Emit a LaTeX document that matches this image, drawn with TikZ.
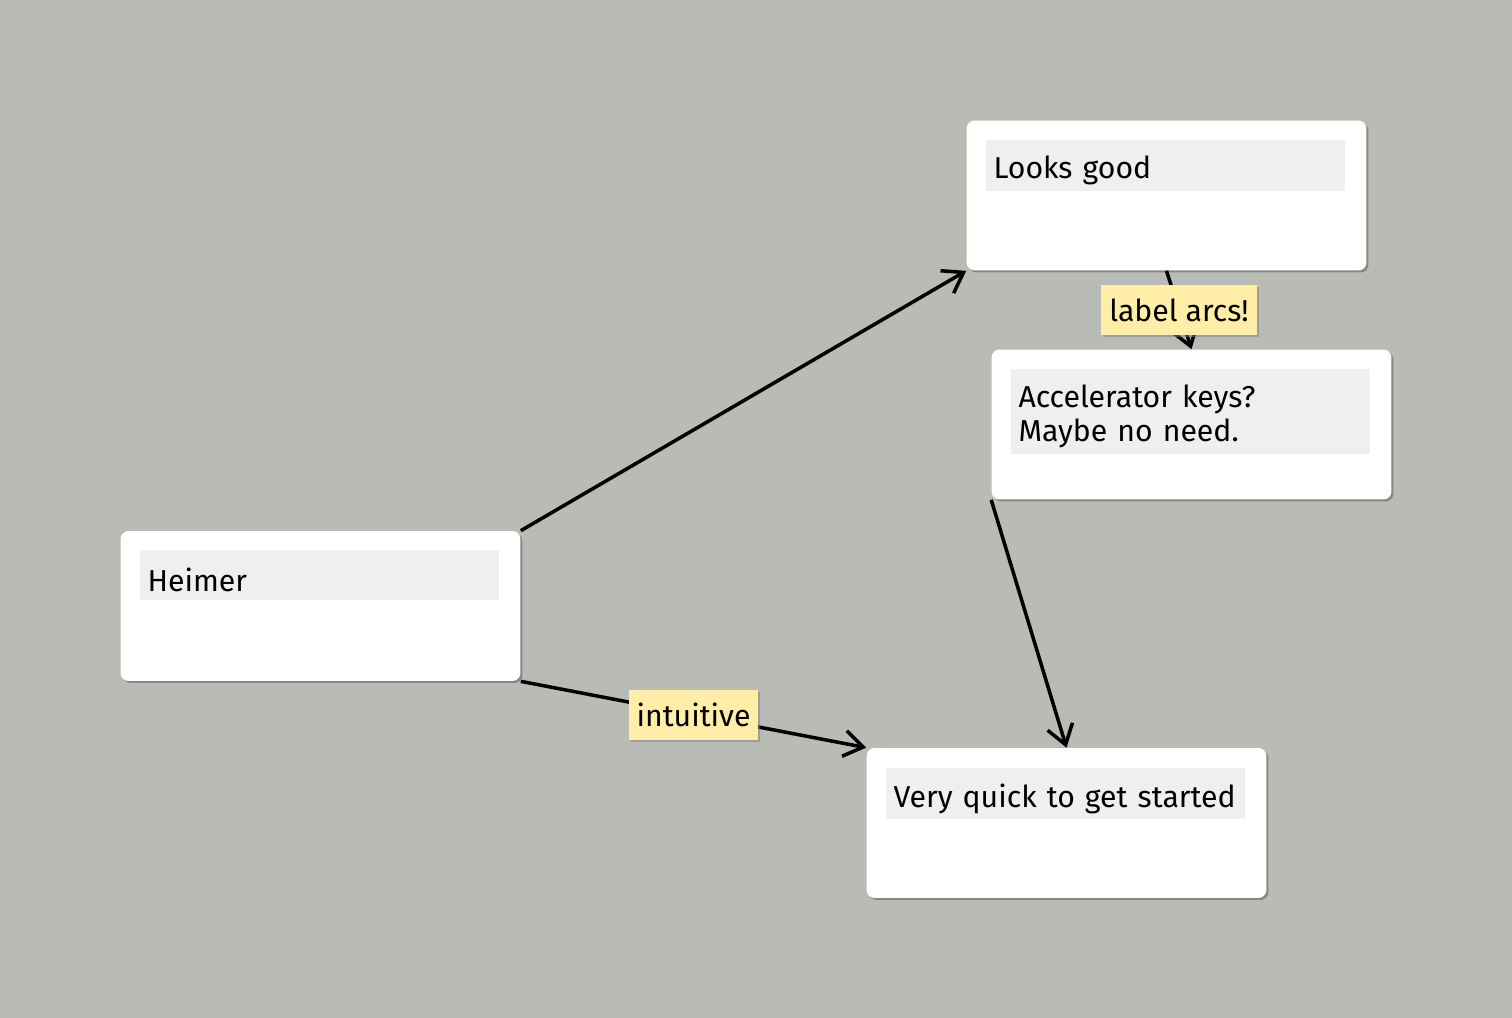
\documentclass[tikz,border=0pt]{standalone}
\usepackage{fontspec}
\setmainfont{Fira Sans}
\usetikzlibrary{positioning,shadows,arrows.meta}
\definecolor{canvas}{HTML}{B9BCB5}
\definecolor{barfill}{HTML}{EFEFEF}
\definecolor{tagfill}{HTML}{FFEDA8}

\begin{document}
\begin{tikzpicture}[x=0.02cm,y=-0.02cm,
      card/.style={fill=white,rounded corners=0.16cm,minimum width=8cm,minimum height=3cm,
        drop shadow={shadow xshift=0.04cm,shadow yshift=-0.04cm,fill=black!55,opacity=.7}},
      titlebar/.style={fill=barfill,anchor=north west,text width=6.88cm,inner xsep=0.16cm,
        minimum height=1cm,align=left,font=\fontsize{17.2}{19.3}\selectfont,
        execute at begin node={\rule{0pt}{1.1em}}},
      tag/.style={fill=tagfill,inner sep=0.16cm,minimum height=1cm,font=\fontsize{17.2}{19.3}\selectfont,
        drop shadow={shadow xshift=0.04cm,shadow yshift=-0.04cm,fill=black!50,opacity=.5}},
      arc/.style={-{Straight Barb[length=0.38cm,width=0.52cm]},line width=2pt}]
      \fill[canvas] (0,0) rectangle (1512,1018);
      \useasboundingbox (0,0) rectangle (1512,1018);
			\node[card] (looks) at (1166.5,195.5) {};
			\node[card] (accel) at (1191.5,424.5) {};
			\node[card] (heimer) at (320.5,606) {};
			\node[card] (quick) at (1066.5,823) {};
			\node[titlebar] (looks-t) [below right=0.38cm and 0.38cm of looks.north west] {Looks good};
			\node[titlebar,minimum height=1.68cm] (accel-t) [below right=0.38cm and 0.38cm of accel.north west] {Accelerator keys?\\Maybe no need.};
			\node[titlebar] (heimer-t) [below right=0.38cm and 0.38cm of heimer.north west] {Heimer};
			\node[titlebar] (quick-t) [below right=0.4cm and 0.38cm of quick.north west] {Very quick to get started};
			\path[arc]
        (heimer.north east) edge (looks.south west)
        (heimer.south east) edge node [tag] {intuitive} (quick.north west)
        (looks.south) edge node [tag] {label arcs!} (accel.north)
        (accel.south west) edge (quick.north);
		\end{tikzpicture}
\end{document}
